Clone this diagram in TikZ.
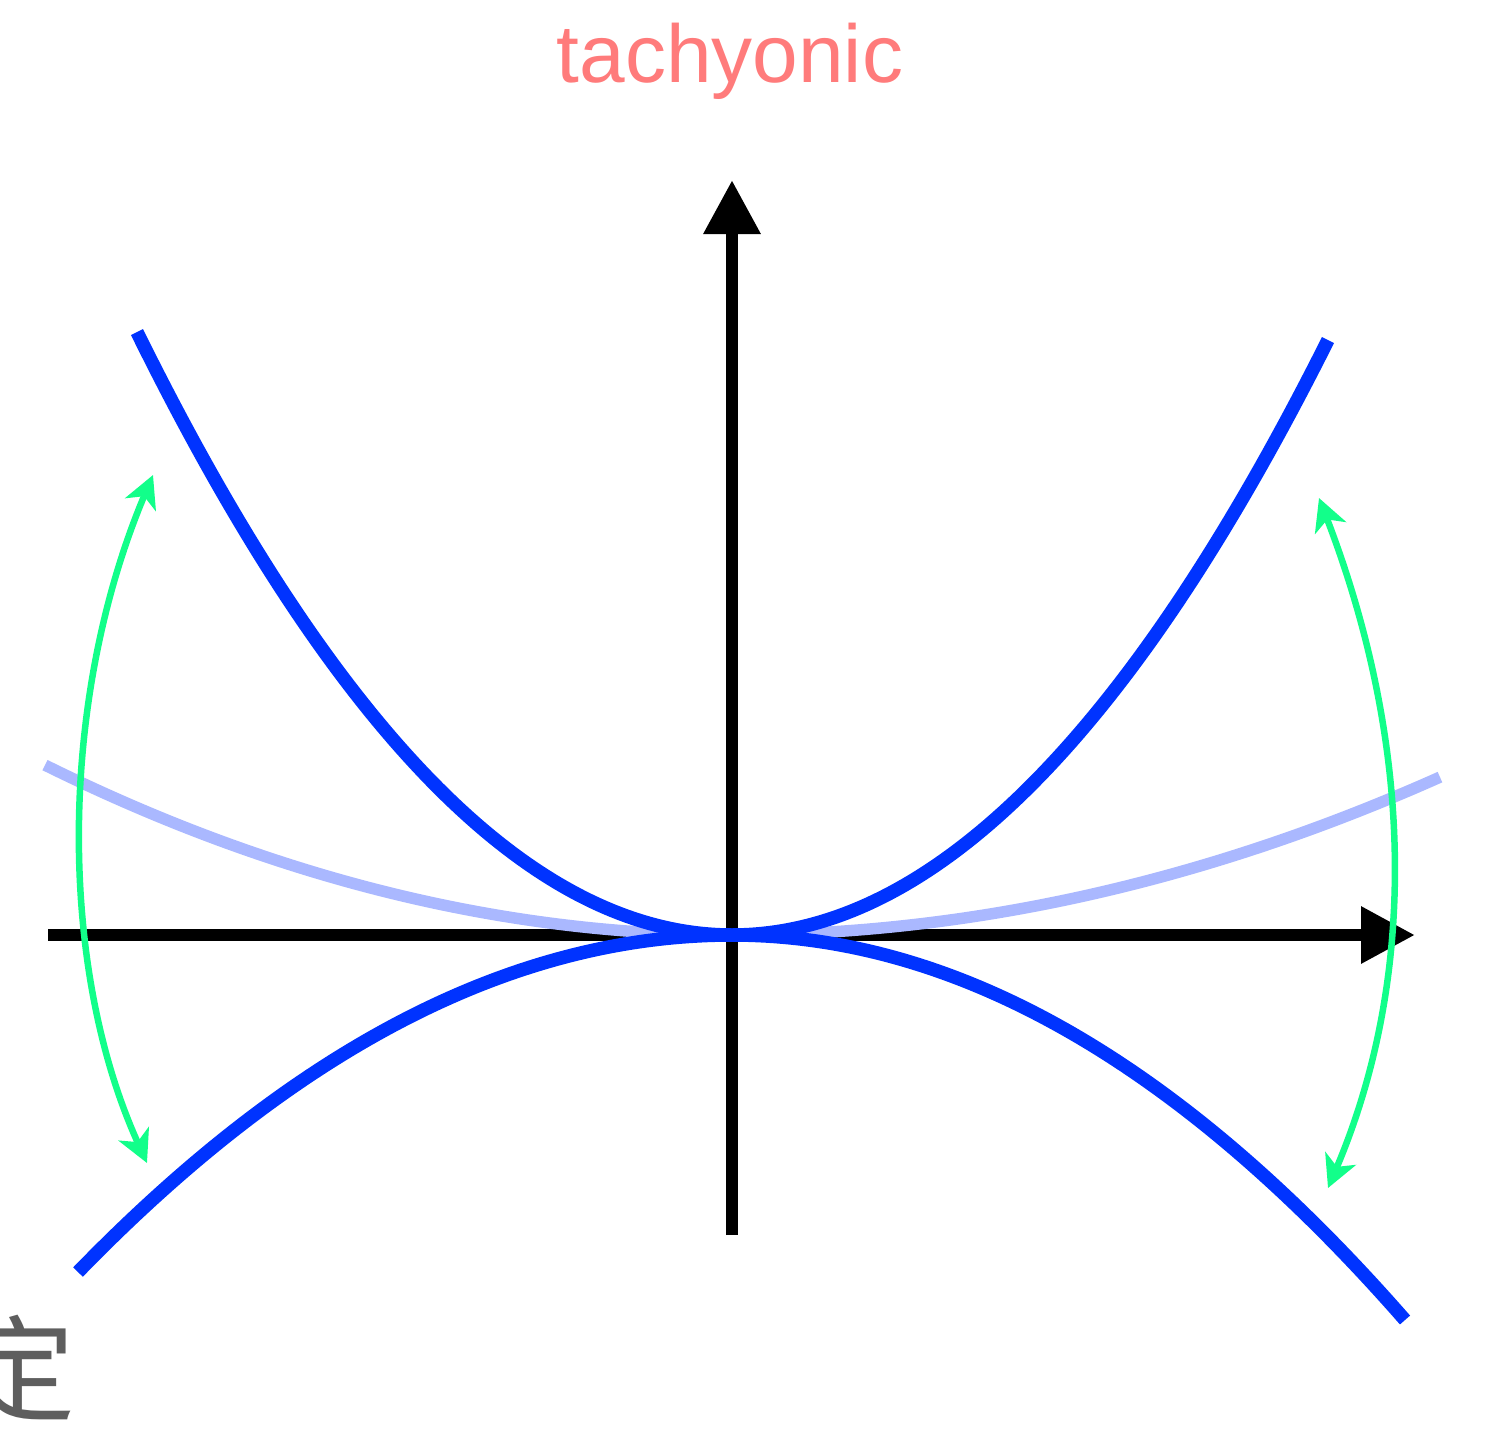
\documentclass[tikz,border=0pt]{standalone}
\usepackage{fontspec}
\setmainfont{Liberation Sans}
\newfontfamily\cjk{Noto Sans CJK SC}
\usetikzlibrary{arrows.meta}
\definecolor{curveblue}{RGB}{0,51,255}
\definecolor{lightblue}{RGB}{170,184,255}
\definecolor{arcgreen}{RGB}{18,255,138}
\definecolor{titlered}{RGB}{255,123,123}
\definecolor{textgray}{RGB}{94,94,94}
\tikzset{
  axis/.style={line width=12.5pt, draw=black, -{Triangle[length=54pt,width=54pt]}},
  maincurve/.style={line width=13.5pt, draw=curveblue},
  softcurve/.style={line width=11.5pt, draw=lightblue},
  swaparc/.style={line width=6.5pt, draw=arcgreen, {Stealth[length=32pt,width=33pt,inset=9pt]}-{Stealth[length=32pt,width=33pt,inset=9pt]}},
}
\begin{document}
\begin{tikzpicture}[x=1pt,y=-1pt]
\useasboundingbox (0,0) rectangle (1485,1430);
% axes
\coordinate (xstart) at (48,935);
\coordinate (xend) at (1415,935);
\coordinate (ystart) at (732,1235);
\coordinate (yend) at (732,180);
\draw[axis] (xstart) -- (xend);
\draw[axis] (ystart) -- (yend);
% light curve
\draw[softcurve] plot[domain=-6.87:0, samples=80] ({732+100*\x}, {935-3.6*\x*\x});
\draw[softcurve] plot[domain=0:7.08, samples=80] ({732+100*\x}, {935-3.15*\x*\x});
% main curves
\draw[maincurve] plot[domain=-5.95:0, samples=80] ({732+100*\x}, {935-17.03*\x*\x});
\draw[maincurve] plot[domain=0:5.96, samples=80] ({732+100*\x}, {935-16.75*\x*\x});
\draw[maincurve] plot[domain=-6.54:0, samples=80] ({732+100*\x}, {935+7.88*\x*\x});
\draw[maincurve] plot[domain=0:6.73, samples=80] ({732+100*\x}, {935+8.5*\x*\x});
% green arcs
\coordinate (lt) at (153,475);
\coordinate (lb) at (147,1163);
\coordinate (rt) at (1319,498);
\coordinate (rb) at (1328,1188);
\draw[swaparc] (lb) .. controls (58,967) and (58,700) .. (lt);
\draw[swaparc] (rt) .. controls (1416,750) and (1416,981) .. (rb);
% texts
\node[anchor=base, text=titlered, inner sep=0pt, font=\fontsize{82}{90}\selectfont] (title) at (730,82) {tachyonic};
\node[anchor=base, text=textgray, inner sep=0pt, font=\cjk\fontsize{115}{120}\selectfont] (corner) at (18,1412) {定};
\end{tikzpicture}
\end{document}
